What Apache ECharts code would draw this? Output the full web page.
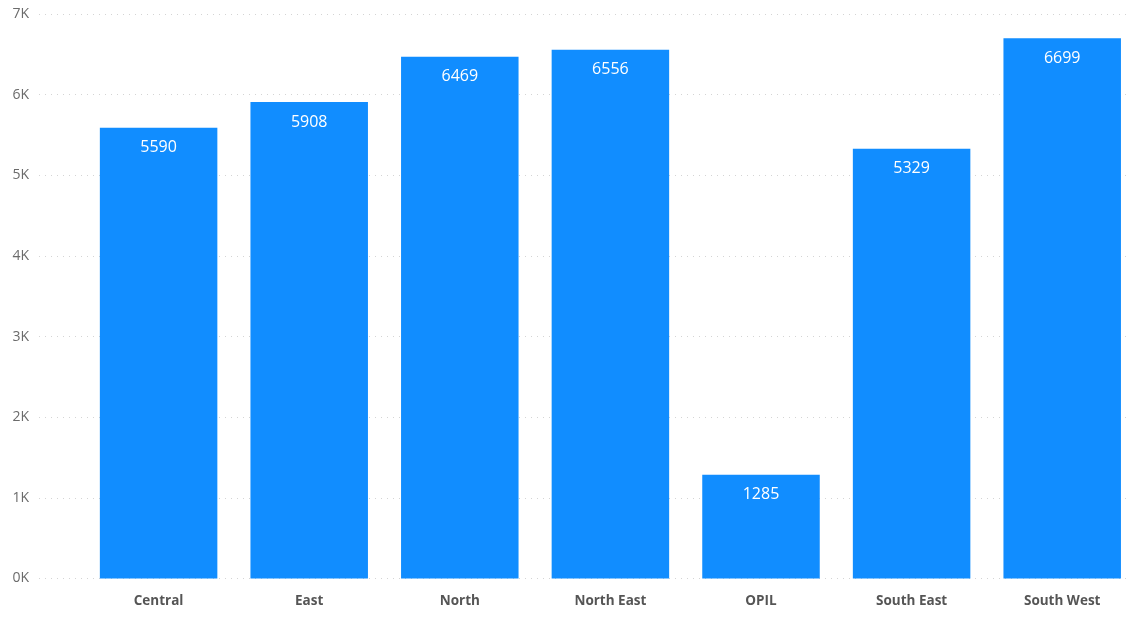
<!DOCTYPE html>
<html>
<head>
<meta charset="utf-8">
<script src="https://cdn.jsdelivr.net/npm/echarts@6/dist/echarts.min.js"></script>
<style>
  html, body { margin: 0; padding: 0; background: #ffffff; }
  #chart { width: 1128px; height: 618px; }
</style>
</head>
<body>
<div id="chart"></div>
<script>
// Regions and their totals
const categories = ['Central', 'East', 'North', 'North East', 'OPIL', 'South East', 'South West'];
const values = [5590, 5908, 6469, 6556, 1285, 5329, 6699];
const yTicks = [0, 1000, 2000, 3000, 4000, 5000, 6000, 7000];

const yMin = yTicks[0];
const yMax = yTicks[yTicks.length - 1];
const FONT = '"Open Sans", "Segoe UI", sans-serif';

const chart = echarts.init(document.getElementById('chart'), null, { renderer: 'canvas' });

chart.setOption({
  animation: false,
  backgroundColor: '#ffffff',
  grid: [
    // Value axis grid: labels and dotted gridlines span the full width
    { left: 39, right: 2, top: 14, bottom: 39.5, containLabel: false, outerBoundsMode: 'none' },
    // Category grid: bars inset from the left edge, last band runs past the right edge
    { left: 83.3, width: 1054.2, top: 14, bottom: 39.5, containLabel: false, outerBoundsMode: 'none' }
  ],
  xAxis: [
    {
      gridIndex: 0, type: 'value', min: 0, max: 1, show: false
    },
    {
      gridIndex: 1,
      type: 'category',
      data: categories,
      axisLine: { show: false },
      axisTick: { show: false },
      axisLabel: {
        color: '#555555',
        fontFamily: FONT,
        fontSize: 13.5,
        fontWeight: 'bold',
        margin: 16
      }
    }
  ],
  yAxis: [
    {
      gridIndex: 0,
      type: 'value',
      min: yMin,
      max: yMax,
      interval: 1000,
      axisLine: { show: false },
      axisTick: { show: false },
      axisLabel: {
        color: '#6b6b6b',
        fontFamily: FONT,
        fontSize: 14,
        margin: 10,
        formatter: v => (v / 1000) + 'K'
      },
      splitLine: {
        show: true,
        lineStyle: { color: '#d4d4d4', type: [1, 5], width: 1 }
      }
    },
    {
      gridIndex: 1,
      type: 'value',
      min: yMin,
      max: yMax,
      interval: 1000,
      show: false,
      splitLine: { show: false }
    }
  ],
  series: [
    {
      type: 'bar',
      xAxisIndex: 1,
      yAxisIndex: 1,
      data: values,
      barWidth: 117.5,
      itemStyle: { color: '#118DFF' },
      label: {
        show: true,
        position: 'insideTop',
        distance: 12,
        color: '#ffffff',
        fontFamily: FONT,
        fontSize: 16
      }
    }
  ]
});
</script>
</body>
</html>
